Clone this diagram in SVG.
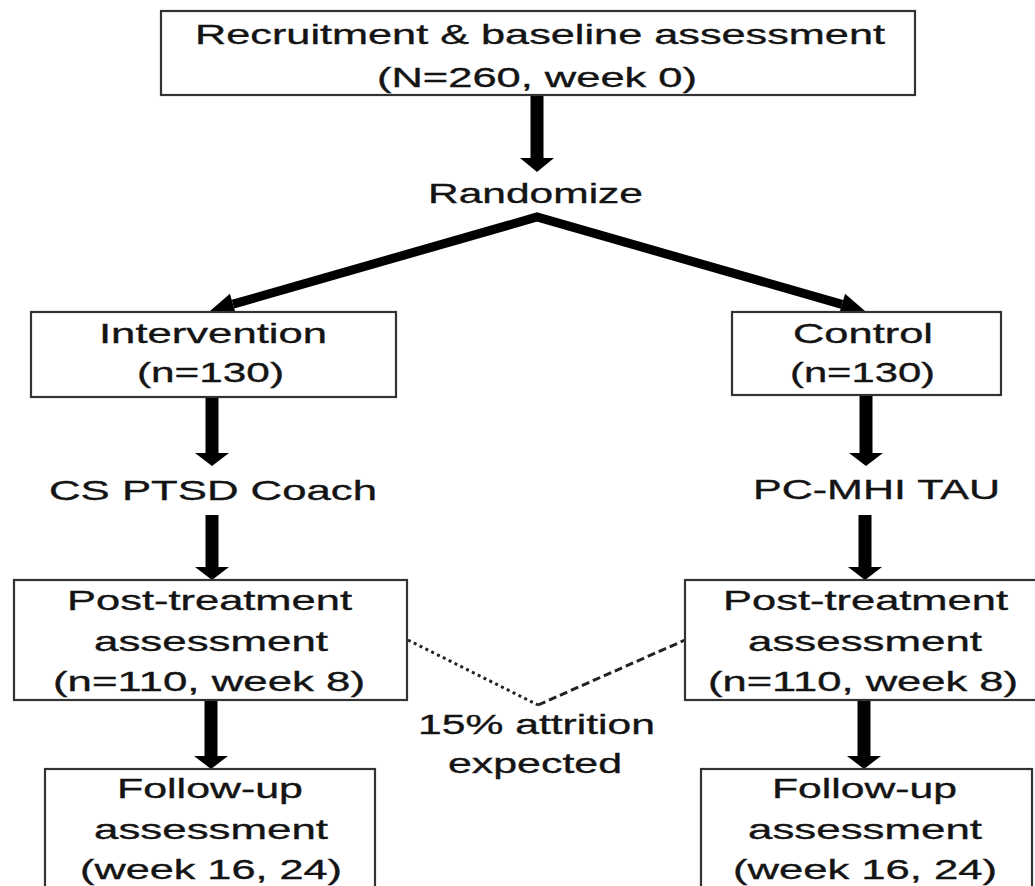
<svg xmlns="http://www.w3.org/2000/svg" width="1035" height="886" viewBox="0 0 1035 886">
<style>
  .box { fill: #ffffff; stroke: #333333; stroke-width: 2.2; }
  .t { font-family: "Liberation Sans", Arial, sans-serif; font-size: 28px; fill: #141414; stroke: #141414; stroke-width: 0.35; text-anchor: middle; }
  .head { fill: #000000; }
  .shaft { stroke: #000000; stroke-width: 13; fill: none; }
  .diag { stroke: #000000; stroke-width: 9; fill: none; stroke-linejoin: miter; }
  .dot { stroke: #222222; stroke-width: 3; fill: none; stroke-dasharray: 3 3.5; }
  .dash { stroke: #222222; stroke-width: 3; fill: none; stroke-dasharray: 8 4; }
</style>
<rect width="1035" height="886" fill="#ffffff"/>

<g id="connectors">
  <line class="shaft" x1="537" y1="95" x2="537" y2="160"/>
  <polygon class="head" points="520,158 554,158 537,172"/>
  <polyline class="diag" points="233,304.2 537,217 842,304.3"/>
  <polygon class="head" points="210,311 236.1,314.8 229.9,293.7"/>
  <polygon class="head" points="865,311 838.9,314.8 845.1,293.7"/>
  <line class="shaft" x1="212" y1="397" x2="212" y2="455"/>
  <polygon class="head" points="195,453 229,453 212,466"/>
  <line class="shaft" x1="212" y1="515" x2="212" y2="569"/>
  <polygon class="head" points="195,567 229,567 212,580"/>
  <line class="shaft" x1="211" y1="700" x2="211" y2="758"/>
  <polygon class="head" points="194,756 228,756 211,769"/>
  <line class="shaft" x1="866" y1="395" x2="866" y2="455"/>
  <polygon class="head" points="849,453 883,453 866,466"/>
  <line class="shaft" x1="865" y1="515" x2="865" y2="569"/>
  <polygon class="head" points="848,567 882,567 865,580"/>
  <line class="shaft" x1="864" y1="700" x2="864" y2="758"/>
  <polygon class="head" points="847,756 881,756 864,769"/>
  <line class="dot" x1="408" y1="640" x2="538" y2="705"/>
  <line class="dash" x1="538" y1="705" x2="685" y2="640"/>
</g>

<g id="recruitment">
  <rect class="box" x="161" y="11" width="754" height="84"/>
  <text class="t" x="540" y="44" textLength="690" lengthAdjust="spacingAndGlyphs">Recruitment &amp; baseline assessment</text>
  <text class="t" x="537" y="87" textLength="320" lengthAdjust="spacingAndGlyphs">(N=260, week 0)</text>
</g>

<g id="randomize">
  <text class="t" x="535.5" y="203" textLength="215" lengthAdjust="spacingAndGlyphs">Randomize</text>
</g>

<g id="intervention">
  <rect class="box" x="31" y="312" width="365" height="85"/>
  <text class="t" x="213" y="343" textLength="228" lengthAdjust="spacingAndGlyphs">Intervention</text>
  <text class="t" x="210.5" y="382" textLength="147" lengthAdjust="spacingAndGlyphs">(n=130)</text>
</g>

<g id="control">
  <rect class="box" x="732" y="312" width="269" height="83"/>
  <text class="t" x="863" y="343" textLength="140" lengthAdjust="spacingAndGlyphs">Control</text>
  <text class="t" x="862.5" y="382" textLength="145" lengthAdjust="spacingAndGlyphs">(n=130)</text>
</g>

<g id="cs-ptsd-coach">
  <text class="t" x="213" y="500" textLength="328" lengthAdjust="spacingAndGlyphs">CS PTSD Coach</text>
</g>

<g id="pc-mhi-tau">
  <text class="t" x="876.5" y="499" textLength="247" lengthAdjust="spacingAndGlyphs">PC-MHI TAU</text>
</g>

<g id="post-left">
  <rect class="box" x="14" y="580" width="393" height="120"/>
  <text class="t" x="209.5" y="610" textLength="285" lengthAdjust="spacingAndGlyphs">Post-treatment</text>
  <text class="t" x="211" y="651" textLength="234" lengthAdjust="spacingAndGlyphs">assessment</text>
  <text class="t" x="209" y="691" textLength="312" lengthAdjust="spacingAndGlyphs">(n=110, week 8)</text>
</g>

<g id="post-right">
  <rect class="box" x="685" y="580" width="360" height="120"/>
  <text class="t" x="865.5" y="610" textLength="285" lengthAdjust="spacingAndGlyphs">Post-treatment</text>
  <text class="t" x="865" y="651" textLength="234" lengthAdjust="spacingAndGlyphs">assessment</text>
  <text class="t" x="863" y="691" textLength="310" lengthAdjust="spacingAndGlyphs">(n=110, week 8)</text>
</g>

<g id="attrition">
  <text class="t" x="536.5" y="734" textLength="237" lengthAdjust="spacingAndGlyphs">15% attrition</text>
  <text class="t" x="535" y="773" textLength="174" lengthAdjust="spacingAndGlyphs">expected</text>
</g>

<g id="followup-left">
  <rect class="box" x="45" y="769" width="330" height="140"/>
  <text class="t" x="210" y="798" textLength="186" lengthAdjust="spacingAndGlyphs">Follow-up</text>
  <text class="t" x="211" y="839" textLength="234" lengthAdjust="spacingAndGlyphs">assessment</text>
  <text class="t" x="211" y="879" textLength="262" lengthAdjust="spacingAndGlyphs">(week 16, 24)</text>
</g>

<g id="followup-right">
  <rect class="box" x="701" y="769" width="331" height="140"/>
  <text class="t" x="864.5" y="798" textLength="185" lengthAdjust="spacingAndGlyphs">Follow-up</text>
  <text class="t" x="865" y="839" textLength="234" lengthAdjust="spacingAndGlyphs">assessment</text>
  <text class="t" x="865" y="879" textLength="264" lengthAdjust="spacingAndGlyphs">(week 16, 24)</text>
</g>
</svg>
